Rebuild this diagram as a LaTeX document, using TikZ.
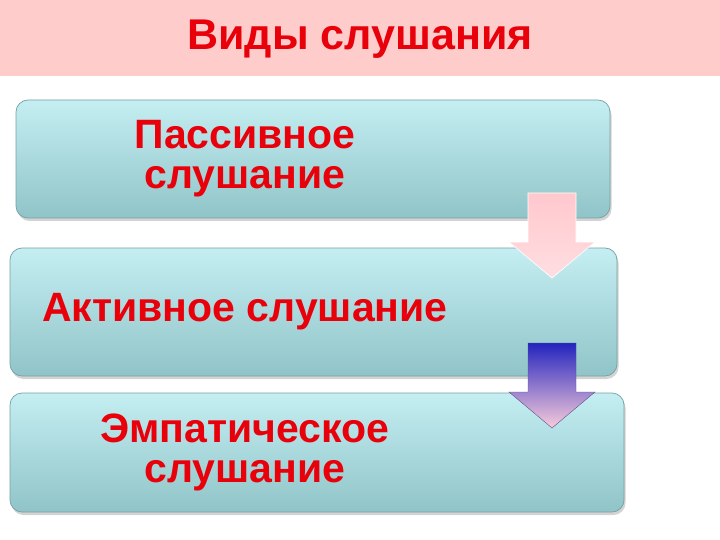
\documentclass[tikz,border=0pt]{standalone}
\usepackage{fontspec}
\setmainfont{Liberation Sans}
\usepackage{tikz}
\usetikzlibrary{positioning, shadows, calc}

\definecolor{bandPink}{RGB}{255,204,204}
\definecolor{labelRed}{RGB}{232,0,10}
\definecolor{boxTop}{RGB}{196,238,242}
\definecolor{boxBottom}{RGB}{144,196,200}
\definecolor{boxEdge}{RGB}{120,160,164}
\definecolor{arrowPink}{RGB}{255,200,205}
\definecolor{arrowPinkLight}{RGB}{255,222,225}
\definecolor{arrowBlue}{RGB}{36,36,190}
\definecolor{arrowViolet}{RGB}{140,110,205}
\definecolor{arrowRose}{RGB}{248,204,218}

\begin{document}
\begin{tikzpicture}[
    x=1pt, y=-1pt,
    band/.style = {
        fill=bandPink,
    },
    heading/.style = {
        text=labelRed,
        font=\bfseries\fontsize{43}{43}\selectfont,
    },
    stage/.style = {
        draw=boxEdge,
        line width=0.7pt,
        rounded corners=12pt,
        top color=boxTop,
        bottom color=boxBottom,
        drop shadow={opacity=0.35, shadow xshift=1.5pt, shadow yshift=-3pt},
    },
    stageText/.style = {
        text=labelRed,
        align=center,
        font=\bfseries\fontsize{41}{40}\selectfont,
    },
    downArrow/.pic = {
        \path[pic actions] (-24,0) -- (24,0) -- (24,49) -- (43,49)
            -- (0,85) -- (-43,49) -- (-24,49) -- cycle;
    },
    softArrow/.style = {
        top color=arrowPink,
        bottom color=arrowPinkLight,
        draw=white, line width=0.6pt,
        drop shadow={opacity=0.5, shadow xshift=3pt, shadow yshift=-1pt},
    },
    deepArrow/.style = {
        top color=arrowBlue,
        middle color=arrowViolet,
        bottom color=arrowRose,
        draw=arrowViolet!70!black, line width=0.4pt,
        drop shadow={opacity=0.4, shadow xshift=3pt, shadow yshift=-1pt},
    },
]

\newcommand{\stageBox}[5]{
    \node(#1)[stage, minimum width=#3pt, minimum height=#4pt] at #2 {};
    \node(#1 Text)[stageText] at (#1.center -| textAxis) {#5};
}

\useasboundingbox (0,0) rectangle (720,540);

% title band
\fill[band] (0,0) rectangle (720,76);
\node(Title)[heading] at (360,39) {Виды слушания};

\coordinate (textAxis) at (245,0);

\stageBox{Passive}{(313,159)}{594}{118}{Пассивное\\слушание}
\stageBox{Active}{(313.5,312)}{607}{128}{Активное слушание}

\pic[softArrow] (toActive) at (552,193) {downArrow};

\stageBox{Empathic}{(317,452.5)}{614}{119}{Эмпатическое\\слушание}

\pic[deepArrow] (toEmpathic) at (552,343) {downArrow};

\end{tikzpicture}
\end{document}
